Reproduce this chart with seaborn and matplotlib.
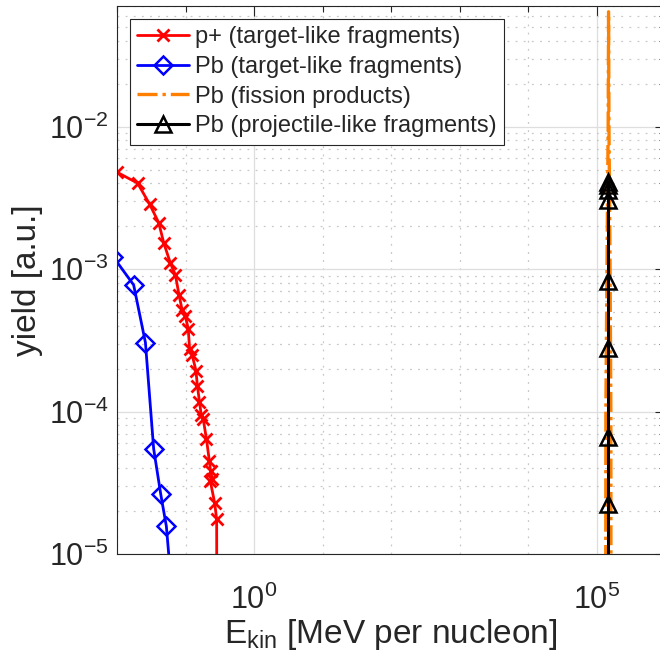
import numpy as np
import pandas as pd
import matplotlib
matplotlib.use('Agg')
import matplotlib.pyplot as plt
import seaborn as sns
from matplotlib.ticker import FixedLocator, LogFormatterSciNotation, NullFormatter, LogLocator

# ---------------- data ----------------
p_energy = [0.0100, 0.020, 0.030, 0.0406, 0.0481, 0.0602, 0.0712, 0.0804, 0.0895, 0.0990,
            0.1095, 0.115, 0.125, 0.142, 0.149, 0.160, 0.170, 0.181, 0.202, 0.223,
            0.232, 0.247, 0.230, 0.267, 0.285, 0.288]
p_yield = [4.79e-3, 4.01e-3, 2.85e-3, 2.12e-3, 1.53e-3, 1.10e-3, 9.1e-4, 6.59e-4, 5.13e-4, 4.72e-4,
           3.82e-4, 2.73e-4, 2.50e-4, 1.94e-4, 1.52e-4, 1.17e-4, 9.4e-5, 8.9e-5, 6.44e-5, 4.50e-5,
           3.83e-5, 3.37e-5, 3.26e-5, 2.27e-5, 1.75e-5, 1.0e-6]

pb_t_energy = [0.0088, 0.0175, 0.026, 0.0343, 0.0435, 0.0526, 0.061]
pb_t_yield = [1.22e-3, 7.74e-4, 3.05e-4, 5.47e-5, 2.63e-5, 1.56e-5, 6.7e-6]

pb_f_energy = [1.36e5, 1.37e5, 1.42e5, 1.48e5, 1.50e5, 1.52e5, 1.58e5, 1.62e5, 1.63e5]
pb_f_yield = [1.0e-6, 1.0e-4, 1.0e-3, 1.0e-2, 6.4e-2, 1.0e-2, 1.0e-3, 1.0e-4, 1.0e-6]

pb_p_energy = [1.49e5, 1.49e5, 1.49e5, 1.49e5, 1.49e5, 1.49e5, 1.49e5, 1.49e5, 1.49e5]
pb_p_yield = [4.11e-3, 3.90e-3, 3.60e-3, 3.06e-3, 8.26e-4, 2.79e-4, 6.64e-5, 2.25e-5, 1.0e-6]

labels = ['p+ (target-like fragments)', 'Pb (target-like fragments)',
          'Pb (fission products)', 'Pb (projectile-like fragments)']

x_major = [1, 1e5]
x_minor = [1e-2, 1e-1, 1e1, 1e2, 1e3, 1e4, 1e6]

# ---------------- style ----------------
sns.set_style('white')
plt.rcParams['font.family'] = ['Liberation Sans', 'DejaVu Sans']
plt.rcParams['mathtext.fontset'] = 'custom'
plt.rcParams['mathtext.rm'] = 'Liberation Sans'
plt.rcParams['mathtext.it'] = 'Liberation Sans:italic'
plt.rcParams['mathtext.bf'] = 'Liberation Sans:bold'
plt.rcParams['axes.unicode_minus'] = False

fig = plt.figure(figsize=(6.6, 6.64), dpi=100)
ax = fig.add_axes([117 / 660, 1 - 554 / 664, (665 - 117) / 660, (554 - 5.7) / 664])
ax.set_xscale('log')
ax.set_yscale('log')
ax.set_axisbelow(True)

common = dict(ax=ax, sort=False, estimator=None, errorbar=None)

df_p = pd.DataFrame({'E': p_energy, 'Y': p_yield})
sns.lineplot(data=df_p, x='E', y='Y', color='#ff0000', lw=2, marker='x', markersize=9,
             markeredgewidth=2, markeredgecolor='#ff0000', label=labels[0], **common)

df_bt = pd.DataFrame({'E': pb_t_energy, 'Y': pb_t_yield})
sns.lineplot(data=df_bt, x='E', y='Y', color='#0000ff', lw=2, marker='D', markersize=9,
             markeredgewidth=1.8, markeredgecolor='#0000ff', markerfacecolor='none',
             label=labels[1], **common)

df_bf = pd.DataFrame({'E': pb_f_energy, 'Y': pb_f_yield})
sns.lineplot(data=df_bf, x='E', y='Y', color='#ff8000', lw=2.4, dashes=False,
             label=labels[2], **common)
ax.lines[-1].set_linestyle((0, (6, 1.5, 1, 1.5)))

df_bp = pd.DataFrame({'E': pb_p_energy, 'Y': pb_p_yield})
sns.lineplot(data=df_bp, x='E', y='Y', color='#000000', lw=2.2, marker='^', markersize=11,
             markeredgewidth=1.8, markeredgecolor='#000000', markerfacecolor='none',
             label=labels[3], **common)

ax.set_xlim(1e-2, 1e6)
ax.set_ylim(1e-5, 10 ** -1.151)

ax.xaxis.set_major_locator(FixedLocator(x_major))
ax.xaxis.set_minor_locator(FixedLocator(x_minor))
ax.xaxis.set_major_formatter(LogFormatterSciNotation())
ax.xaxis.set_minor_formatter(NullFormatter())
ax.yaxis.set_major_locator(LogLocator(base=10, numticks=12))
ax.yaxis.set_minor_locator(LogLocator(base=10, subs=np.arange(2, 10), numticks=12))
ax.yaxis.set_minor_formatter(NullFormatter())

ax.tick_params(which='both', direction='in', top=True, right=True, color='#262626',
               labelcolor='#262626', labelsize=22, width=0.8)
ax.tick_params(which='major', length=7)
ax.tick_params(which='minor', length=4)
ax.tick_params(axis='x', which='major', pad=22)
ax.tick_params(axis='y', which='major', pad=6)

ax.grid(True, which='major', color='#dedede', lw=0.9, ls='-')
ax.grid(True, which='minor', color='#c8c8c8', lw=0.9, ls=(0, (1.5, 5)))

for s in ax.spines.values():
    s.set_color('#262626')
    s.set_linewidth(0.8)

ax.set_xlabel(r'E$_{\mathrm{kin}}$ [MeV per nucleon]', fontsize=24, color='#262626', labelpad=1)
ax.set_ylabel('yield [a.u.]', fontsize=24, color='#262626', labelpad=4)

handles, labs = ax.get_legend_handles_labels()
leg = ax.legend(handles, labs, loc='upper left', bbox_to_anchor=(130 / 660, 1 - 19 / 664),
                bbox_transform=fig.transFigure, borderaxespad=0, fontsize=17, frameon=True,
                fancybox=False, edgecolor='#262626', framealpha=1, handlelength=2.2,
                handletextpad=0.25, labelspacing=0.33, borderpad=0.3)
leg.get_frame().set_linewidth(0.8)

fig.savefig('out.png', dpi=100)
